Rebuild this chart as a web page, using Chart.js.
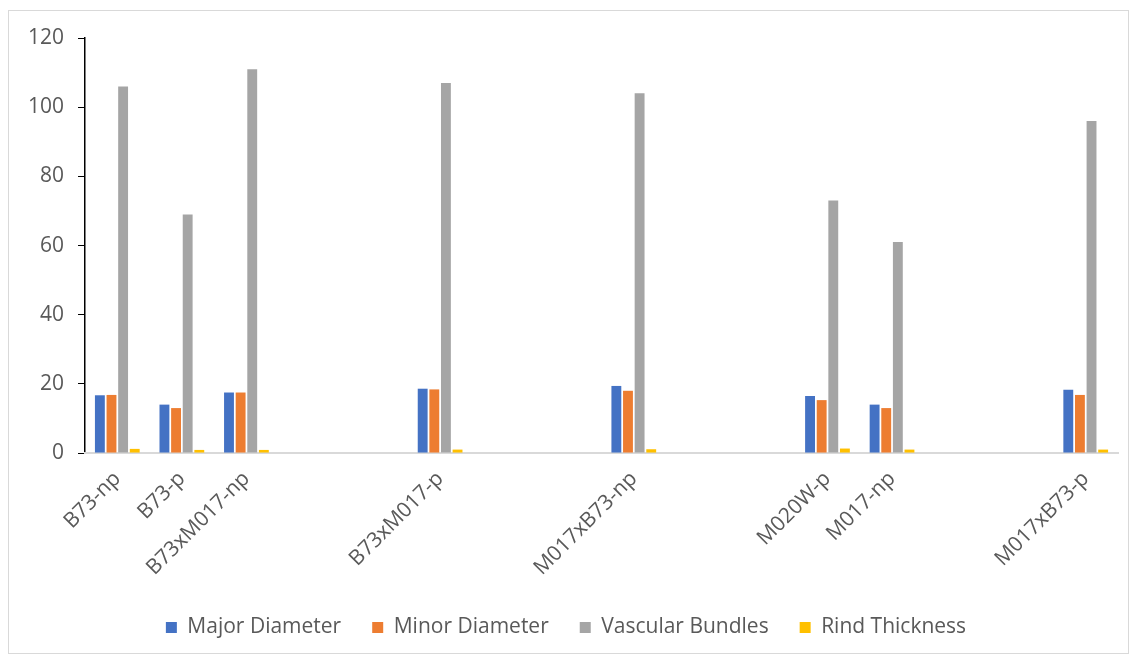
<!DOCTYPE html>
<html>
<head>
<meta charset="utf-8">
<script src="https://cdn.jsdelivr.net/npm/chart.js@4"></script>
<style>
  body { margin: 0; background: #fff; }
  #wrap {
    position: absolute; left: 8px; top: 10px;
    width: 1121px; height: 644px;
    border: 1px solid #d9d9d9; box-sizing: border-box;
  }
</style>
</head>
<body>
<div id="wrap"><canvas id="stemChart"></canvas></div>
<script>
// blank labels keep Excel's empty category slots
const categories = ['B73-np', 'B73-p', 'B73xM017-np', '', '', 'B73xM017-p', '', '', 'M017xB73-np',
                    '', '', 'M020W-p', 'M017-np', '', '', 'M017xB73-p'];
const majorDiameter = [16.7, 14.0, 17.5, null, null, 18.6, null, null, 19.4, null, null, 16.5, 14.0, null, null, 18.3];
const minorDiameter = [16.8, 13.0, 17.5, null, null, 18.4, null, null, 18.0, null, null, 15.3, 13.0, null, null, 16.8];
const vascularBundles = [106, 69, 111, null, null, 107, null, null, 104, null, null, 73, 61, null, null, 96];
const rindThickness = [1.2, 0.9, 0.9, null, null, 1.0, null, null, 1.1, null, null, 1.3, 1.0, null, null, 1.0];
const yTicks = [0, 20, 40, 60, 80, 100, 120];

const textGrey = '#595959';
const font = { family: 'Open Sans', size: 21 };

const ctx = document.getElementById('stemChart').getContext('2d');
new Chart(ctx, {
    type: 'bar',
    data: {
        labels: categories,
        datasets: [
            { label: 'Major Diameter', data: majorDiameter, backgroundColor: '#4472C4' },
            { label: 'Minor Diameter', data: minorDiameter, backgroundColor: '#ED7D31' },
            { label: 'Vascular Bundles', data: vascularBundles, backgroundColor: '#A5A5A5' },
            { label: 'Rind Thickness', data: rindThickness, backgroundColor: '#FFC000' }
        ]
    },
    options: {
        responsive: true,
        maintainAspectRatio: false,
        animation: false,
        datasets: { bar: { categoryPercentage: 0.72, barPercentage: 0.85 } },
        layout: { padding: { top: 27, right: 10, left: 5, bottom: 5 } },
        plugins: {
            legend: {
                position: 'bottom',
                labels: { color: textGrey, font: font, boxWidth: 11, boxHeight: 11, padding: 31 }
            },
            tooltip: { enabled: false }
        },
        scales: {
            y: {
                min: 0, max: 120,
                afterBuildTicks: axis => { axis.ticks = yTicks.map(v => ({ value: v })); },
                border: { color: '#000', width: 1.5 },
                grid: { drawOnChartArea: false, drawTicks: true, tickLength: 7, color: '#000' },
                ticks: { color: textGrey, font: font, padding: 14 }
            },
            x: {
                border: { color: '#d9d9d9', width: 2 },
                grid: { display: false },
                ticks: { color: textGrey, font: font, minRotation: 45, maxRotation: 45, autoSkip: false, padding: 5.5 }
            }
        }
    }
});
</script>
</body>
</html>
